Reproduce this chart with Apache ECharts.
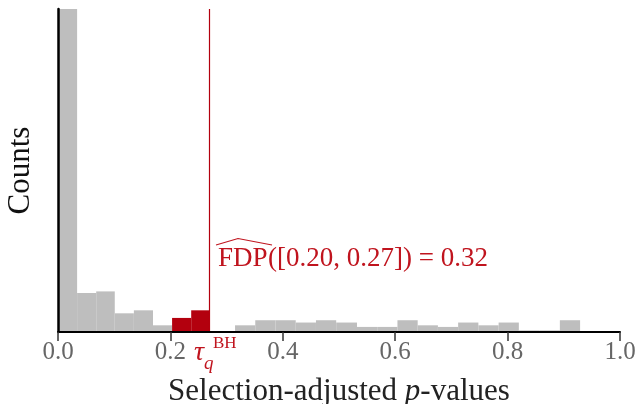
<!DOCTYPE html>
<html><head><meta charset="utf-8">
<script src="https://cdn.jsdelivr.net/npm/echarts@6/dist/echarts.min.js"></script>
<style>html,body{margin:0;padding:0;background:#fff}#c{width:636px;height:404px}</style>
</head><body><div id="c"></div>
<script>
// Histogram below the BH threshold (equal-width bins from 0 to the threshold)
const leftEdges = [0, 0.034, 0.068, 0.101, 0.135, 0.169, 0.203, 0.237, 0.2705];
const leftCounts = [160, 16.9, 17.6, 8.1, 9.4, 2.9, 6.1, 9.4];
// Bins falling in the selected interval [0.20, 0.27] (indices into the left bins)
const selectedBins = [6, 7];
// Histogram above the threshold
const rightEdges = [0.279, 0.315, 0.351, 0.387, 0.423, 0.459, 0.495, 0.532, 0.568, 0.604, 0.640, 0.676, 0.712, 0.748, 0.784, 0.820, 0.857, 0.893, 0.929];
const rightCounts = [0, 2.9, 5.1, 5.1, 4.1, 5.1, 4.1, 2.2, 2.2, 5.1, 2.9, 2.2, 4.1, 2.9, 4.1, 0.7, 0.7, 5.1];
const threshold = 0.2705;
const xTicks = [0, 0.2, 0.4, 0.6, 0.8, 1.0];
const fdpText = '([0.20, 0.27]) = 0.32';

const GRAY = '#bebebe', RED = '#b3000e', TXTRED = '#c0141e';
const FONT = 'Liberation Serif';

const grayData = [], redData = [];
for (let i = 0; i < leftCounts.length; i++) {
  const item = [leftEdges[i], leftEdges[i + 1], leftCounts[i]];
  (selectedBins.includes(i) ? redData : grayData).push(item);
}
for (let i = 0; i < rightCounts.length; i++) grayData.push([rightEdges[i], rightEdges[i + 1], rightCounts[i]]);

function makeRender(color) {
  return function (params, api) {
    const x0 = api.value(0), x1 = api.value(1), c = api.value(2);
    const p0 = api.coord([x0, 0]);
    const p1 = api.coord([x1, c]);
    return { type: 'rect', shape: { x: p0[0], y: p1[1], width: p1[0] - p0[0], height: p0[1] - p1[1] }, style: { fill: color } };
  };
}

const chart = echarts.init(document.getElementById('c'), null, { renderer: 'canvas' });
chart.setOption({
  animation: false,
  grid: { left: 58, right: 16, top: 9, bottom: 72, outerBoundsMode: 'none', containLabel: false },
  xAxis: {
    type: 'value', min: 0, max: 1, interval: 0.2,
    axisLine: { show: true, onZero: false, lineStyle: { color: '#000', width: 2 } },
    axisTick: { show: true, length: 9, lineStyle: { color: '#333', width: 1.5 } },
    axisLabel: { formatter: v => xTicks.includes(+v.toFixed(1)) ? v.toFixed(1) : '', fontFamily: FONT, fontSize: 25, color: '#666', margin: 8 },
    splitLine: { show: false },
    name: '{n|Selection-adjusted }{i|p}{n|-values}',
    nameLocation: 'middle', nameGap: 44,
    nameTextStyle: { rich: { n: { fontFamily: FONT, fontSize: 31, color: '#222' }, i: { fontFamily: FONT, fontSize: 31, fontStyle: 'italic', color: '#222' } } },
    z: 10
  },
  yAxis: {
    type: 'value', min: 0, max: 140,
    axisLine: { show: true, lineStyle: { color: '#000', width: 2.5 } },
    axisTick: { show: false }, axisLabel: { show: false }, splitLine: { show: false },
    name: 'Counts', nameLocation: 'middle', nameRotate: 90, nameGap: 22,
    nameTextStyle: { fontFamily: FONT, fontSize: 31, color: '#111' },
    z: 10
  },
  series: [
    { type: 'custom', name: 'other', renderItem: makeRender(GRAY), data: grayData, encode: { x: [0, 1], y: 2 }, clip: true, z: 2 },
    { type: 'custom', name: 'selected', renderItem: makeRender(RED), data: redData, encode: { x: [0, 1], y: 2 }, clip: true, z: 3,
      markLine: { silent: true, symbol: 'none', label: { show: false }, lineStyle: { color: RED, width: 1.2, type: 'solid' }, data: [{ xAxis: threshold }] } }
  ]
});

const tp = chart.convertToPixel({ xAxisIndex: 0, yAxisIndex: 0 }, [threshold, 0]);
const tx = tp[0];
chart.setOption({
  graphic: [
    { type: 'text', left: tx + 8, top: 245, style: { text: 'FDP', font: '27px "Liberation Serif"', fill: TXTRED } },
    { type: 'polyline', shape: { points: [[tx + 6, 245], [tx + 28, 238.5], [tx + 62, 245]] }, style: { stroke: TXTRED, lineWidth: 1.2, fill: null } },
    { type: 'text', left: tx + 58, top: 245, style: { text: fdpText, font: '27px "Liberation Serif"', fill: TXTRED } },
    { type: 'text', left: tx - 16, top: 339, style: { text: 'τ', font: 'italic 28px "Liberation Serif"', fill: TXTRED } },
    { type: 'text', left: tx - 6, top: 354, style: { text: 'q', font: 'italic 19px "Liberation Serif"', fill: TXTRED } },
    { type: 'text', left: tx + 3, top: 335, style: { text: 'BH', font: '17px "Liberation Serif"', fill: TXTRED } }
  ]
});
</script></body></html>
